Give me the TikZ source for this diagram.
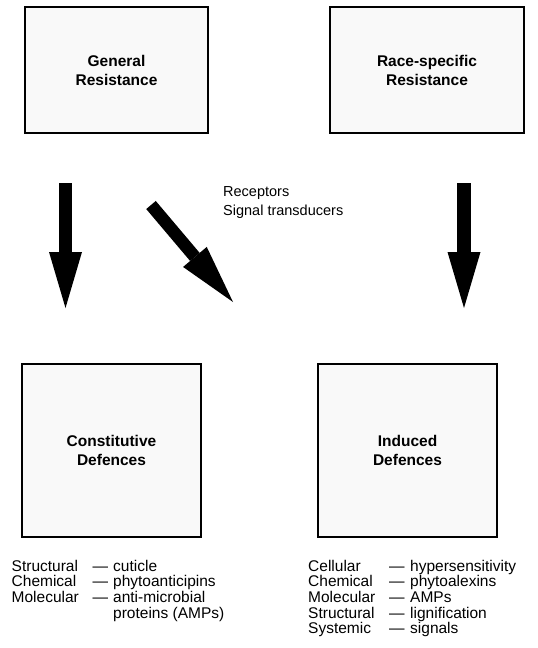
\documentclass[tikz,border=0pt]{standalone}
\usepackage{fontspec}
\setmainfont{Liberation Sans}
\usetikzlibrary{arrows.meta}
\begin{document}
\begin{tikzpicture}[x=1pt,y=-1pt,
  box/.style={draw=black,line width=1.6pt,fill=gray!5,inner sep=0pt,align=center,
    font=\fontsize{15.5}{19}\selectfont\bfseries},
  blockarrow/.style={line width=#1,fill=black},
  listtext/.style={inner sep=0pt,anchor=base west,font=\fontsize{15.5}{15}\selectfont},
]
\useasboundingbox (0,0) rectangle (538,648);

% boxes
\node[box,minimum width=183pt,minimum height=126pt] (gen) at (116.5,70) {General\\Resistance};
\node[box,minimum width=194pt,minimum height=126pt] (race) at (427,70) {Race-specific\\Resistance};
\node[box,minimum width=179pt,minimum height=173pt] (cons) at (111.5,450.5) {Constitutive\\Defences};
\node[box,minimum width=179pt,minimum height=173pt] (ind) at (407.5,450.5) {Induced\\Defences};

% arrow end points
\coordinate (a1s) at (65.5,183);
\coordinate (a1e) at (65.5,308);
\coordinate (a2s) at (151,205);
\coordinate (a2e) at (233,302);
\coordinate (a3s) at (464,183);
\coordinate (a3e) at (464,308);

\draw[blockarrow=13.5pt,-{Triangle[width=33pt,length=56pt,line width=0pt]}] (a1s) -- (a1e);
\draw[blockarrow=12.5pt,-{Triangle[width=31pt,length=59pt,line width=0pt]}] (a2s) -- (a2e);
\draw[blockarrow=14pt,-{Triangle[width=33pt,length=56pt,line width=0pt]}] (a3s) -- (a3e);

\node[inner sep=0pt,anchor=base west,align=left,font=\fontsize{14.5}{19}\selectfont] (rec) at (223,215) {Receptors\\Signal transducers};

% lists
\node[listtext] (conslist) at (11.5,571) {\begin{tabular}[t]{@{}p{81pt}@{}p{20.5pt}@{}l@{}}
Structural & — & cuticle\\
Chemical & — & phytoanticipins\\
Molecular & — & anti-microbial\\
 & & proteins (AMPs)
\end{tabular}};
\node[listtext] (indlist) at (308,571) {\begin{tabular}[t]{@{}p{81pt}@{}p{21pt}@{}l@{}}
Cellular & — & hypersensitivity\\
Chemical & — & phytoalexins\\
Molecular & — & AMPs\\
Structural & — & lignification\\
Systemic & — & signals
\end{tabular}};
\end{tikzpicture}
\end{document}
